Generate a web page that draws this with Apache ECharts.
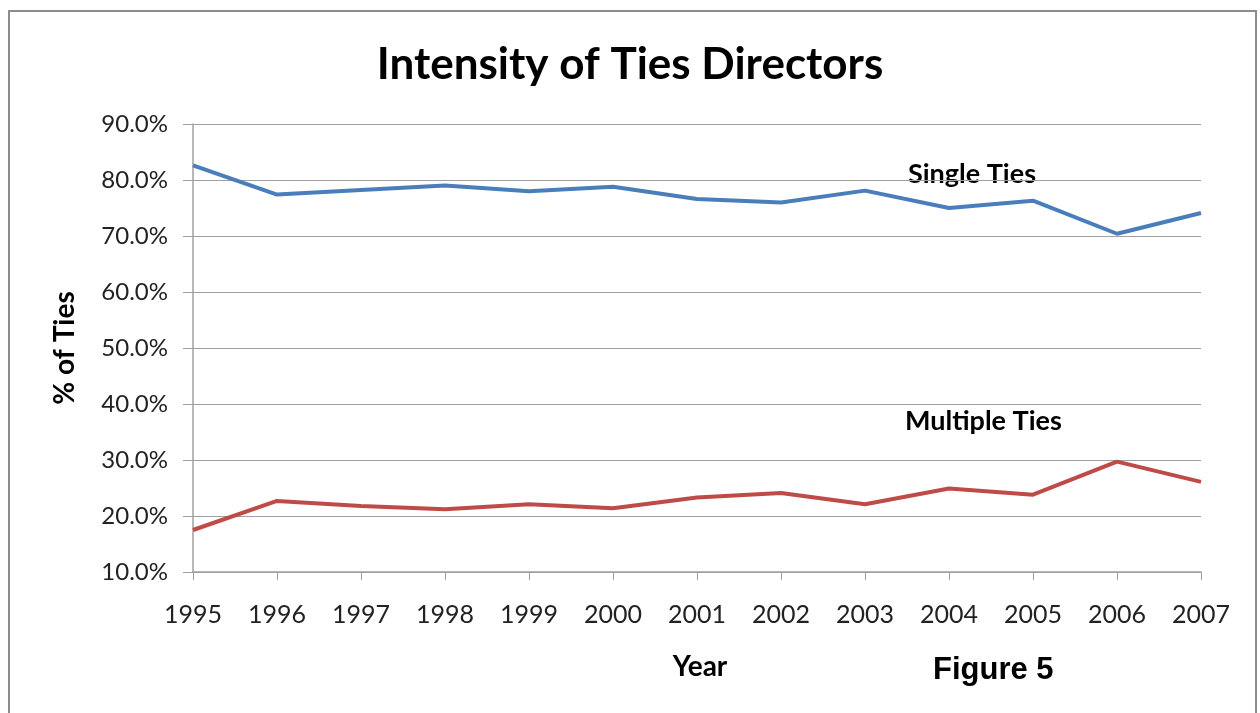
<!DOCTYPE html>
<html>
<head>
<meta charset="utf-8">
<script src="https://cdn.jsdelivr.net/npm/echarts@6/dist/echarts.min.js"></script>
<style>
  html, body { margin: 0; padding: 0; background: #fff; }
  #chart { width: 1260px; height: 713px; }
</style>
</head>
<body>
<div id="chart"></div>
<script>
// datos
const anios = ['1995', '1996', '1997', '1998', '1999', '2000', '2001', '2002', '2003', '2004', '2005', '2006', '2007'];
const singleTies = [82.6, 77.4, 78.2, 79.0, 78.0, 78.8, 76.6, 76.0, 78.1, 75.0, 76.3, 70.4, 74.1];
const multipleTies = [17.5, 22.7, 21.8, 21.2, 22.1, 21.4, 23.3, 24.1, 22.1, 24.9, 23.8, 29.7, 26.1];

const fuente = 'Lato, "Open Sans", sans-serif';
const gris = '#a0a0a0';

const chart = echarts.init(document.getElementById('chart'));

chart.setOption({
    backgroundColor: '#fff',
    animation: false,
    title: {
        text: 'Intensity of Ties Directors',
        left: 'center',
        top: 38,
        textStyle: { fontFamily: fuente, fontSize: 44, fontWeight: 'bold', color: '#000' }
    },
    grid: { left: 193, right: 59, top: 124, bottom: 141 },
    xAxis: {
        type: 'category',
        data: anios,
        boundaryGap: false,
        name: 'Year',
        nameLocation: 'middle',
        nameGap: 81,
        nameTextStyle: { fontFamily: fuente, fontSize: 28, fontWeight: 'bold', color: '#000', padding: [0, 0, 0, 6] },
        axisLine: { lineStyle: { color: gris, width: 1.5 } },
        axisTick: { show: true, length: 8, lineStyle: { color: gris } },
        axisLabel: { fontFamily: fuente, fontSize: 25, color: '#222', margin: 30 },
        splitLine: { show: false }
    },
    yAxis: {
        type: 'value',
        min: 10,
        max: 90,
        interval: 10,
        name: '% of Ties',
        nameLocation: 'middle',
        nameGap: 114,
        nameTextStyle: { fontFamily: fuente, fontSize: 28, fontWeight: 'bold', color: '#000' },
        axisLine: { show: true, lineStyle: { color: gris, width: 1.5 } },
        axisTick: { show: true, length: 10, lineStyle: { color: gris } },
        axisLabel: { fontFamily: fuente, fontSize: 24, color: '#222', margin: 25, formatter: v => v.toFixed(1) + '%' },
        splitLine: { lineStyle: { color: gris, width: 1.2 } }
    },
    series: [
        {
            name: 'Single Ties',
            type: 'line',
            data: singleTies,
            symbol: 'none',
            lineStyle: { color: '#4a7ebb', width: 4 },
            itemStyle: { color: '#4a7ebb' }
        },
        {
            name: 'Multiple Ties',
            type: 'line',
            data: multipleTies,
            symbol: 'none',
            lineStyle: { color: '#be4b48', width: 4 },
            itemStyle: { color: '#be4b48' }
        }
    ],
    graphic: [
        {
            type: 'rect',
            shape: { x: 9, y: 11, width: 1247, height: 720 },
            style: { fill: 'none', stroke: '#8c8c8c', lineWidth: 2 },
            z: -1
        },
        {
            type: 'text', left: 908, top: 161,
            style: { text: 'Single Ties', font: 'bold 27px ' + fuente, fill: '#000' }
        },
        {
            type: 'text', left: 905, top: 408,
            style: { text: 'Multiple Ties', font: 'bold 27px ' + fuente, fill: '#000' }
        },
        {
            type: 'text', left: 933, top: 655,
            style: { text: 'Figure 5', font: 'bold 31px "Liberation Sans", Arial, sans-serif', fill: '#000' }
        }
    ]
});
</script>
</body>
</html>
